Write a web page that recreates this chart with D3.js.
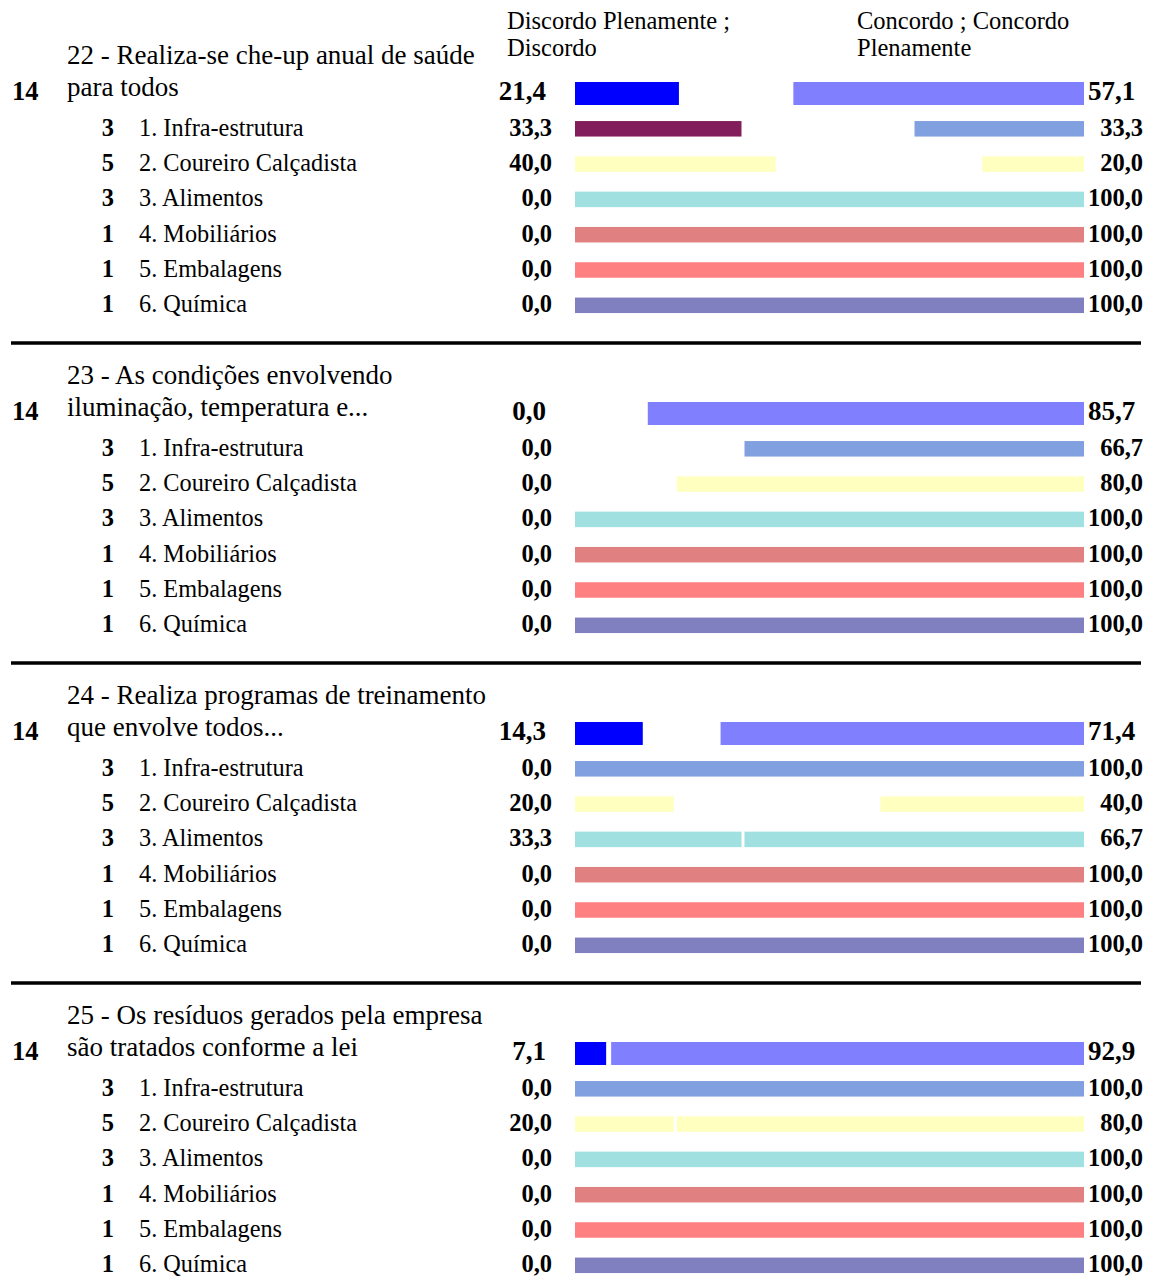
<!DOCTYPE html>
<html>
<head>
<meta charset="utf-8">
<script src="https://cdn.jsdelivr.net/npm/d3@7"></script>
<style>
  html, body { margin: 0; padding: 0; background: #fff; }
  svg { display: block; font-family: "Liberation Serif", "Times New Roman", serif; }
</style>
</head>
<body>
<svg id="chart" width="1152" height="1276"></svg>
<script>
// Survey questions: two-line titles
const questionTitles = [
  ["22 - Realiza-se che-up anual de saúde", "para todos"],
  ["23 - As condições envolvendo", "iluminação, temperatura e..."],
  ["24 - Realiza programas de treinamento", "que envolve todos..."],
  ["25 - Os resíduos gerados pela empresa", "são tratados conforme a lei"]
];
const questionCounts = [14, 14, 14, 14];

// Industry segments and respondents per segment
const segments = ["1. Infra-estrutura", "2. Coureiro Calçadista", "3. Alimentos",
                  "4. Mobiliários", "5. Embalagens", "6. Química"];
const segmentCounts = [3, 5, 3, 1, 1, 1];

// Totals (%): disagree side and agree side
const discordoTotal = [21.4, 0.0, 14.3, 7.1];
const concordoTotal = [57.1, 85.7, 71.4, 92.9];

// Per segment (%), one row per question
const discordoSeg = [
  [33.3, 40.0, 0.0, 0.0, 0.0, 0.0],
  [0.0, 0.0, 0.0, 0.0, 0.0, 0.0],
  [0.0, 20.0, 33.3, 0.0, 0.0, 0.0],
  [0.0, 20.0, 0.0, 0.0, 0.0, 0.0]
];
const concordoSeg = [
  [33.3, 20.0, 100.0, 100.0, 100.0, 100.0],
  [66.7, 80.0, 100.0, 100.0, 100.0, 100.0],
  [100.0, 40.0, 66.7, 100.0, 100.0, 100.0],
  [100.0, 80.0, 100.0, 100.0, 100.0, 100.0]
];

const columnHeaders = [["Discordo Plenamente ;", "Discordo"], ["Concordo ; Concordo", "Plenamente"]];

// Colours
const totalColors = { left: "#0000ff", right: "#8080ff" };
const segLeftColors  = ["#821e5c", "#ffffc0", "#a0e0e0", "#e08080", "#ff8080", "#8080c0"];
const segRightColors = ["#80a0e0", "#ffffc0", "#a0e0e0", "#e08080", "#ff8080", "#8080c0"];

const svg = d3.select("#chart");
svg.append("rect").attr("width", 1152).attr("height", 1276).attr("fill", "#fff");

const fmt = v => d3.format(".1f")(v).replace(".", ",");

// Horizontal percentage scale shared by both sides
const x = d3.scaleLinear().domain([0, 100]).range([575, 1084]);
const mainGap = 5, subGap = 3;

// Section offsets and rows within a section
const sectionStep = 320;
const rowKeys = ["total"].concat(segments);
const rowY = d3.scalePoint().domain(rowKeys).range([93.5, 93.5 + 35.3 * 6]);

const mainH = 23, subH = 15.5;

// Column headers
columnHeaders.forEach((lines, i) => {
  const t = svg.append("text")
    .attr("font-size", 24.5)
    .attr("fill", "#000");
  lines.forEach((s, j) => {
    t.append("tspan").attr("x", i === 0 ? 507 : 857).attr("y", 28.5 + j * 27).text(s);
  });
});

questionTitles.forEach((title, q) => {
  const g = svg.append("g").attr("transform", `translate(0,${q * sectionStep})`);
  const y0 = rowY("total");

  // Separator above every section but the first
  if (q > 0) {
    g.append("line")
      .attr("x1", 11).attr("x2", 1141)
      .attr("y1", 343 - sectionStep).attr("y2", 343 - sectionStep)
      .attr("stroke", "#000").attr("stroke-width", 3.3);
  }

  // Question title
  title.forEach((s, j) => {
    g.append("text").attr("x", 67).attr("y", 63.5 + j * 32)
      .attr("font-size", 27).text(s);
  });

  // Total respondent count
  g.append("text").attr("x", 12).attr("y", y0 + 6.5)
    .attr("font-size", 26.5).attr("font-weight", "bold").text(questionCounts[q]);

  // Total bars
  const dl = discordoTotal[q], cr = concordoTotal[q];
  if (dl > 0) {
    g.append("rect").attr("x", x(0)).attr("y", y0 - mainH / 2)
      .attr("width", x(dl) - x(0) - mainGap).attr("height", mainH)
      .attr("fill", totalColors.left);
  }
  if (cr > 0) {
    g.append("rect").attr("x", x(100 - cr)).attr("y", y0 - mainH / 2)
      .attr("width", x(100) - x(100 - cr)).attr("height", mainH)
      .attr("fill", totalColors.right);
  }
  g.append("text").attr("x", 546).attr("y", y0 + 6.5).attr("text-anchor", "end")
    .attr("font-size", 27).attr("font-weight", "bold").text(fmt(dl));
  g.append("text").attr("x", 1088).attr("y", y0 + 6.5).attr("text-anchor", "start")
    .attr("font-size", 27).attr("font-weight", "bold").text(fmt(cr));

  // Segment rows
  segments.forEach((seg, k) => {
    const y = rowY(seg);
    const l = discordoSeg[q][k], r = concordoSeg[q][k];
    if (l > 0) {
      g.append("rect").attr("x", x(0)).attr("y", y - subH / 2)
        .attr("width", x(l) - x(0) - subGap).attr("height", subH)
        .attr("fill", segLeftColors[k]);
    }
    if (r > 0) {
      g.append("rect").attr("x", x(100 - r)).attr("y", y - subH / 2)
        .attr("width", x(100) - x(100 - r)).attr("height", subH)
        .attr("fill", segRightColors[k]);
    }
    g.append("text").attr("x", 114).attr("y", y + 7).attr("text-anchor", "end")
      .attr("font-size", 24.5).attr("font-weight", "bold").text(segmentCounts[k]);
    g.append("text").attr("x", 139).attr("y", y + 7)
      .attr("font-size", 24.3).text(seg);
    g.append("text").attr("x", 552).attr("y", y + 7).attr("text-anchor", "end")
      .attr("font-size", 24.5).attr("font-weight", "bold").text(fmt(l));
    g.append("text").attr("x", 1143).attr("y", y + 7).attr("text-anchor", "end")
      .attr("font-size", 24.5).attr("font-weight", "bold").text(fmt(r));
  });
});
</script>
</body>
</html>
